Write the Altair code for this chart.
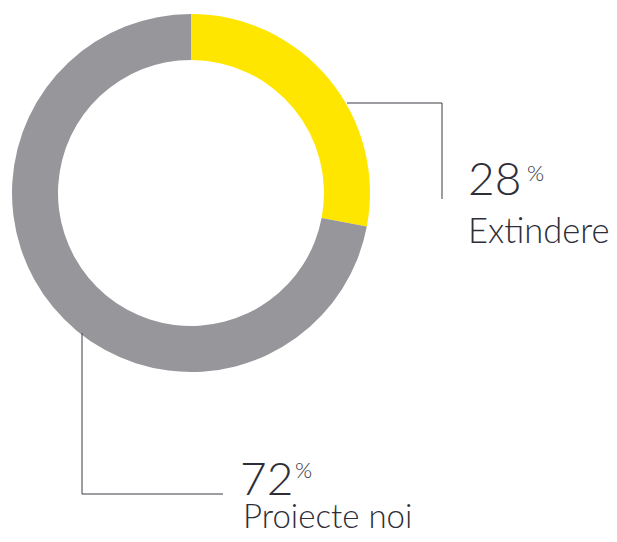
import altair as alt
import pandas as pd

categories = ["Extindere", "Proiecte noi"]
values = [28, 72]
pct_labels = ["28", "72"]
colors = ["#FFE600", "#96969B"]
order = [0, 1]

df = pd.DataFrame({"category": categories, "value": values, "order": order,
                   "pct": pct_labels})

TEXT = "#2E2E38"
FONT = "Lato"

base = alt.Chart(df)

donut = base.mark_arc(outerRadius=179, innerRadius=133).encode(
    theta=alt.Theta("value:Q", stack=True),
    color=alt.Color("category:N", scale=alt.Scale(domain=categories, range=colors), legend=None),
    order=alt.Order("order:Q"),
    x=alt.value(183),
    y=alt.value(185),
)

one = pd.DataFrame({"k": [0]})
rule_style = dict(color="#3a3a44", strokeWidth=1)
rules = alt.layer(
    alt.Chart(one).mark_rule(**rule_style).encode(x=alt.value(339), x2=alt.value(434), y=alt.value(95)),
    alt.Chart(one).mark_rule(**rule_style).encode(x=alt.value(434), y=alt.value(95), y2=alt.value(191)),
    alt.Chart(one).mark_rule(**rule_style).encode(x=alt.value(74), y=alt.value(325), y2=alt.value(486)),
    alt.Chart(one).mark_rule(**rule_style).encode(x=alt.value(74), x2=alt.value(215), y=alt.value(486)),
)

def txt(cat, field, x, y, size, weight=300):
    return base.transform_filter(alt.datum.category == cat).mark_text(
        align="left", baseline="alphabetic", font=FONT, fontSize=size,
        fontWeight=weight, color=TEXT
    ).encode(text=f"{field}:N", x=alt.value(x), y=alt.value(y))

def pct(cat, x, y):
    return base.transform_filter(alt.datum.category == cat).mark_text(
        align="left", baseline="alphabetic", font=FONT, fontSize=22,
        fontWeight=300, color=TEXT, text="%"
    ).encode(x=alt.value(x), y=alt.value(y))

labels = alt.layer(
    txt("Extindere", "pct", 460, 187, 46),
    pct("Extindere", 519, 173),
    txt("Extindere", "category", 460, 235, 34.5),
    txt("Proiecte noi", "pct", 232, 487, 46),
    pct("Proiecte noi", 287, 470),
    txt("Proiecte noi", "category", 235, 520, 33),
)

chart = alt.layer(donut, rules, labels).properties(
    width=601, height=526, padding=0,
    autosize=alt.AutoSizeParams(type="none"),
).configure_view(stroke=None)

chart.save("out.html", embed_options={"renderer": "svg", "actions": False})
